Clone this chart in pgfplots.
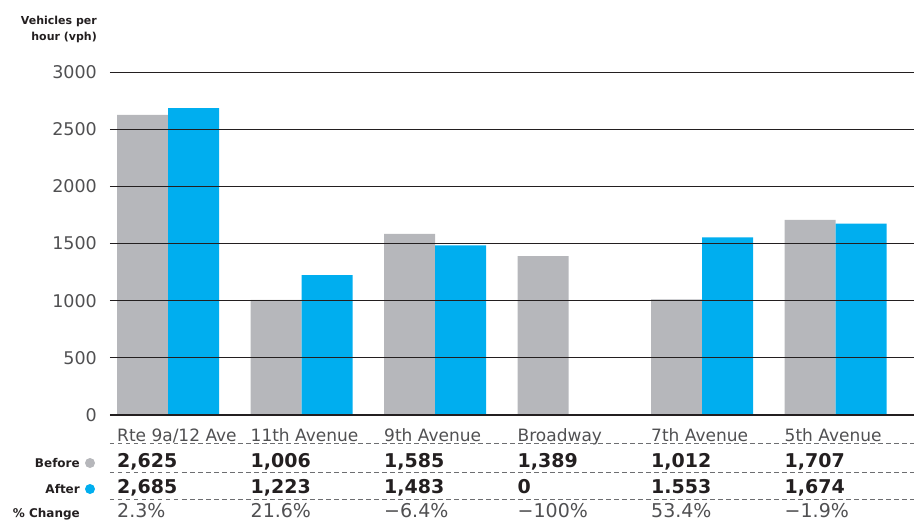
\documentclass[border=0pt]{standalone}
\usepackage{fontspec}
\setmainfont{DejaVu Sans}
\usepackage{pgfplots}
\pgfplotsset{compat=1.18}
\definecolor{before}{HTML}{B6B7BB}
\definecolor{after}{HTML}{00AEEF}
\definecolor{ink}{HTML}{231F20}
\definecolor{ticktext}{HTML}{505052}
\definecolor{rule}{HTML}{6D6E71}

% one column of the table under the bars: index, name, before, after, change
\newcommand\col[5]{%
  \node[tbl, font=\fontsize{17}{20}\selectfont, text=ticktext, yshift=-26pt] at (axis cs:#1,0) {#2};
  \node[tbl, font=\bfseries\fontsize{19}{22}\selectfont, text=ink, yshift=-52pt] at (axis cs:#1,0) {#3};
  \node[tbl, font=\bfseries\fontsize{19}{22}\selectfont, text=ink, yshift=-78pt] at (axis cs:#1,0) {#4};
  \node[tbl, font=\fontsize{19}{22}\selectfont, text=ticktext, yshift=-102pt] at (axis cs:#1,0) {#5};
}
\newcommand\dashrule[1]{%
  \draw[rule, line width=0.8pt, dash pattern=on 4.5pt off 3.5pt]
    ([yshift=-#1pt]rel axis cs:0,0) -- ([yshift=-#1pt]rel axis cs:1,0);
}

\begin{document}
\begin{tikzpicture}[tbl/.style={anchor=base west, inner sep=0pt, xshift=-51pt}]
\useasboundingbox (0,0) rectangle (914pt,-523pt);

\node[anchor=base east, inner sep=0pt, text=ink, font=\bfseries\fontsize{11}{13}\selectfont] at (97pt,-24pt) {Vehicles per};
\node[anchor=base east, inner sep=0pt, text=ink, font=\bfseries\fontsize{11}{13}\selectfont] at (97pt,-40pt) {hour (vph)};

\begin{axis}[
  at={(110pt,-415pt)}, anchor=south west,
  scale only axis, width=804pt, height=343pt,
  xmin=-0.4345, xmax=5.588, ymin=0, ymax=3000,
  ybar=0pt, bar width=51pt,
  axis on top, clip=false,
  axis x line*=bottom, axis y line*=left,
  x axis line style={-, line width=2.2pt, ink},
  y axis line style={draw=none},
  xtick=\empty,
  ytick={0,500,...,3000},
  major tick length=0pt,
  ymajorgrids, grid style={line width=0.9pt, ink},
  /pgf/number format/assume math mode=true,
  /pgf/number format/1000 sep={},
  yticklabel style={anchor=east, inner sep=0pt, xshift=-13pt,
    font=\fontsize{17.5}{20}\selectfont, text=ticktext},
]
\addplot[fill=before, draw=none] coordinates {(0,2625) (1,1006) (2,1585) (3,1389) (4,1012) (5,1707)};
\addplot[fill=after, draw=none] coordinates {(0,2685) (1,1223) (2,1483) (3,0) (4,1553) (5,1674)};

\col{0}{Rte 9a/12 Ave}{2,625}{2,685}{2.3\%}
\col{1}{11th Avenue}{1,006}{1,223}{21.6\%}
\col{2}{9th Avenue}{1,585}{1,483}{−6.4\%}
\col{3}{Broadway}{1,389}{0}{−100\%}
\col{4}{7th Avenue}{1,012}{1.553}{53.4\%}
\col{5}{5th Avenue}{1,707}{1,674}{−1.9\%}

\dashrule{28}
\dashrule{57}
\dashrule{84}
\end{axis}

\node[anchor=base east, inner sep=0pt, text=ink, font=\bfseries\fontsize{12}{14}\selectfont] at (80pt,-467pt) {Before};
\node[anchor=base east, inner sep=0pt, text=ink, font=\bfseries\fontsize{12}{14}\selectfont] at (80pt,-493pt) {After};
\node[anchor=base east, inner sep=0pt, text=ink, font=\bfseries\fontsize{12}{14}\selectfont] at (80pt,-517pt) {\% Change};
\node[circle, fill=before, inner sep=0pt, minimum size=10pt] at (90pt,-463pt) {};
\node[circle, fill=after, inner sep=0pt, minimum size=10pt] at (90pt,-489pt) {};
\end{tikzpicture}
\end{document}
